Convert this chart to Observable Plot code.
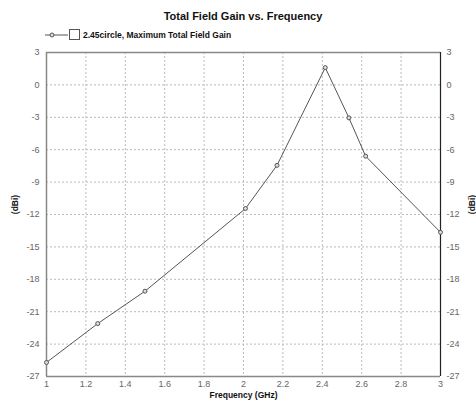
<!DOCTYPE html>
<html>
<head>
<meta charset="utf-8">
<script src="https://cdn.jsdelivr.net/npm/d3@7"></script>
<script src="https://cdn.jsdelivr.net/npm/@observablehq/plot@0.6"></script>
<style>
  body { margin: 0; background: #fff; }
  #wrap { position: relative; width: 476px; height: 406px; font-family: "Liberation Sans", Arial, sans-serif; }
  #title { position: absolute; left: 0; top: 10px; width: 486px; text-align: center; font-weight: 700; font-size: 11px; line-height: 12px; color: #111; }
  #legend { position: absolute; left: 45px; top: 29px; height: 12px; display: flex; align-items: center; font-weight: 700; font-size: 8.5px; color: #111; }
  #legend svg { margin-right: 3px; }
  #chart { position: absolute; left: 0; top: 0; }
</style>
</head>
<body>
<div id="wrap">
  <div id="chart"></div>
  <div id="title"></div>
  <div id="legend"></div>
</div>
<script>
const titleText = "Total Field Gain vs. Frequency";
const seriesName = "2.45circle, Maximum Total Field Gain";
const xLabel = "Frequency (GHz)";
const yLabel = "(dBi)";

const freq = [1, 1.26, 1.5, 2.01, 2.17, 2.415, 2.535, 2.62, 3];
const gain = [-25.7, -22.1, -19.1, -11.45, -7.45, 1.6, -3.05, -6.6, -13.65];

const xTicks = [1, 1.2, 1.4, 1.6, 1.8, 2, 2.2, 2.4, 2.6, 2.8, 3];
const yTicks = [-27, -24, -21, -18, -15, -12, -9, -6, -3, 0, 3];

const data = freq.map((f, i) => ({f, g: gain[i]}));

document.getElementById("title").textContent = titleText;
document.getElementById("legend").innerHTML =
  '<svg width="35" height="12"><line x1="0" y1="6" x2="23" y2="6" stroke="#555" stroke-width="1"/>' +
  '<circle cx="7" cy="6" r="2" fill="#ddd" stroke="#555"/>' +
  '<rect x="24.5" y="0.5" width="10" height="10" fill="#fff" stroke="#555"/></svg>' +
  '<span>' + seriesName + '</span>';

const fmt = d => String(+d.toFixed(1));
const tickStyle = {fontSize: 9, fill: "#666"};

const chart = Plot.plot({
  width: 476,
  height: 406,
  marginTop: 52,
  marginBottom: 30,
  marginLeft: 46,
  marginRight: 36,
  style: {fontFamily: "'Liberation Sans', Arial, sans-serif", background: "transparent"},
  x: {domain: [1, 3]},
  y: {domain: [-27, 3]},
  marks: [
    Plot.ruleX(xTicks.slice(1, -1), {stroke: "#bbb", strokeDasharray: "2,2"}),
    Plot.ruleY(yTicks.slice(1, -1), {stroke: "#bbb", strokeDasharray: "2,2"}),
    Plot.ruleY([-27], {stroke: "#888", strokeWidth: 1.5}),
    Plot.ruleY([3], {stroke: "#888", strokeWidth: 1.5}),
    Plot.ruleX([1], {stroke: "#888", strokeWidth: 1.5}),
    Plot.ruleX([3], {stroke: "#222", strokeWidth: 1.2}),
    Plot.axisX({ticks: xTicks, tickFormat: fmt, tickSize: 0, tickPadding: 4, label: null, ...tickStyle}),
    Plot.axisY({anchor: "left", ticks: yTicks, tickFormat: fmt, tickSize: 0, tickPadding: 7, label: null, ...tickStyle}),
    Plot.axisY({anchor: "right", ticks: yTicks, tickFormat: fmt, tickSize: 0, tickPadding: 6, label: null, ...tickStyle}),
    Plot.text([xLabel], {frameAnchor: "bottom", dy: 21, fontWeight: "bold", fontSize: 8.5, fill: "#111"}),
    Plot.text([yLabel], {frameAnchor: "left", textAnchor: "middle", lineAnchor: "middle", dx: -31, dy: -10, rotate: -90, fontWeight: "bold", fontSize: 8.5, fill: "#111"}),
    Plot.text([yLabel], {frameAnchor: "right", textAnchor: "middle", lineAnchor: "middle", dx: 32, dy: -10, rotate: -90, fontWeight: "bold", fontSize: 8.5, fill: "#111"}),
    Plot.line(data, {x: "f", y: "g", stroke: "#555", strokeWidth: 1}),
    Plot.dot(data, {x: "f", y: "g", r: 2, fill: "#ddd", stroke: "#555", strokeWidth: 1})
  ]
});
document.getElementById("chart").appendChild(chart);
</script>
</body>
</html>
